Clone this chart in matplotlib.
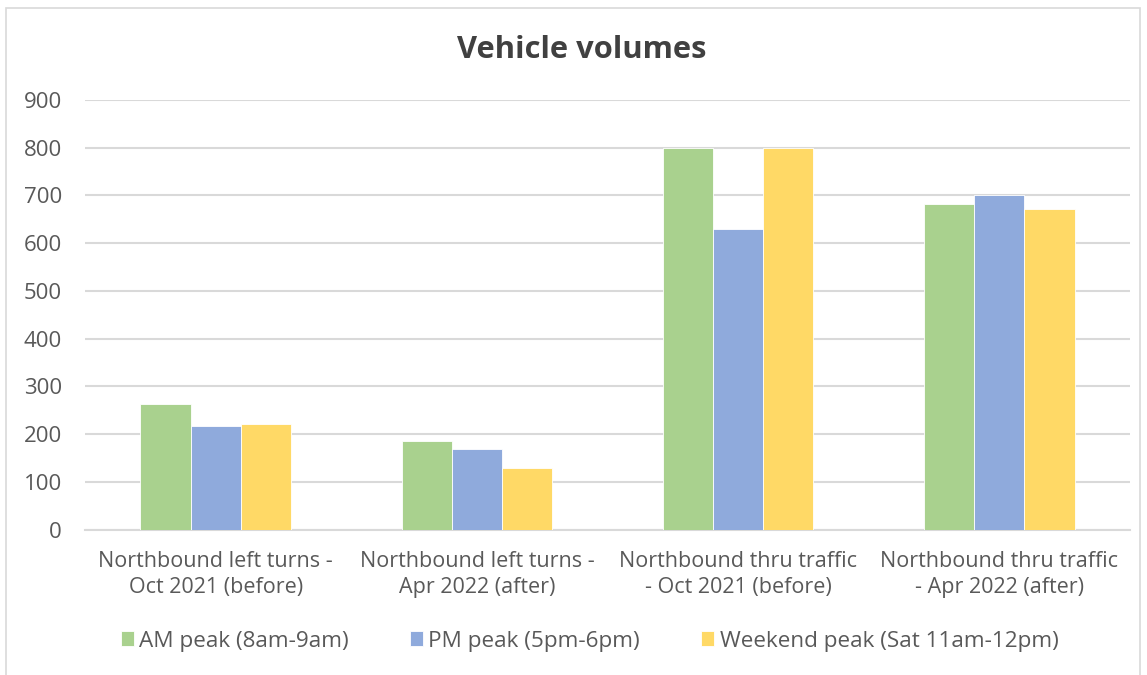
import matplotlib
matplotlib.use("Agg")
import matplotlib.pyplot as plt
import numpy as np
from matplotlib.patches import Rectangle

categories = ["Northbound left turns -\nOct 2021 (before)",
              "Northbound left turns -\nApr 2022 (after)",
              "Northbound thru traffic\n- Oct 2021 (before)",
              "Northbound thru traffic\n- Apr 2022 (after)"]
series_names = ["AM peak (8am-9am)", "PM peak (5pm-6pm)", "Weekend peak (Sat 11am-12pm)"]
am_peak = [263, 186, 800, 682]
pm_peak = [217, 169, 630, 700]
weekend_peak = [222, 130, 800, 671]
colors = ["#A9D18E", "#8FAADC", "#FFD966"]
yticks = [0, 100, 200, 300, 400, 500, 600, 700, 800, 900]

plt.rcParams['font.family'] = ['Open Sans', 'DejaVu Sans']
text_color = "#595959"

fig = plt.figure(figsize=(11.47, 6.75), dpi=100)
fig.patches.append(Rectangle((6/1147, -0.1), (1140-6)/1147, 1 - 8/675 + 0.1,
                             transform=fig.transFigure, fill=False,
                             edgecolor="#D9D9D9", linewidth=1.2))

ax = fig.add_axes([85/1147, 1 - 529.7/675, 1045/1147, 429.7/675])
x = np.arange(len(categories))
w = 0.192
for i, (vals, name) in enumerate(zip([am_peak, pm_peak, weekend_peak], series_names)):
    ax.bar(x + (i - 1) * w, vals, width=w, color=colors[i], label=name,
           edgecolor="white", linewidth=0.6, zorder=3)

ax.set_xlim(-0.5, len(categories) - 0.5)
ax.set_ylim(0, 900)
ax.set_yticks(yticks)
ax.set_yticklabels([str(t) for t in yticks], fontsize=16, color=text_color)
ax.set_xticks(x)
ax.set_xticklabels(categories, fontsize=15.5, color=text_color, linespacing=1.32)
ax.tick_params(axis='both', length=0)
ax.tick_params(axis='y', pad=16.5)
ax.tick_params(axis='x', pad=15)
ax.grid(axis='y', color="#D9D9D9", linewidth=1.5, zorder=0)
for s in ["top", "right", "left"]:
    ax.spines[s].set_visible(False)
ax.spines["bottom"].set_color("#D9D9D9")
ax.spines["bottom"].set_linewidth(1.5)

fig.text(582/1147, 1 - 58.3/675, "Vehicle volumes", fontsize=22.2, fontweight='bold',
         color="#404040", ha='center', va='baseline')

leg = fig.legend(loc='center', bbox_to_anchor=(589.5/1147, 1 - 641/675), ncol=3,
                 frameon=False, fontsize=16.2, handlelength=0.6, handleheight=0.6,
                 handletextpad=0.23, columnspacing=2.7)
for t in leg.get_texts():
    t.set_color(text_color)

fig.savefig("out.png", dpi=100)
